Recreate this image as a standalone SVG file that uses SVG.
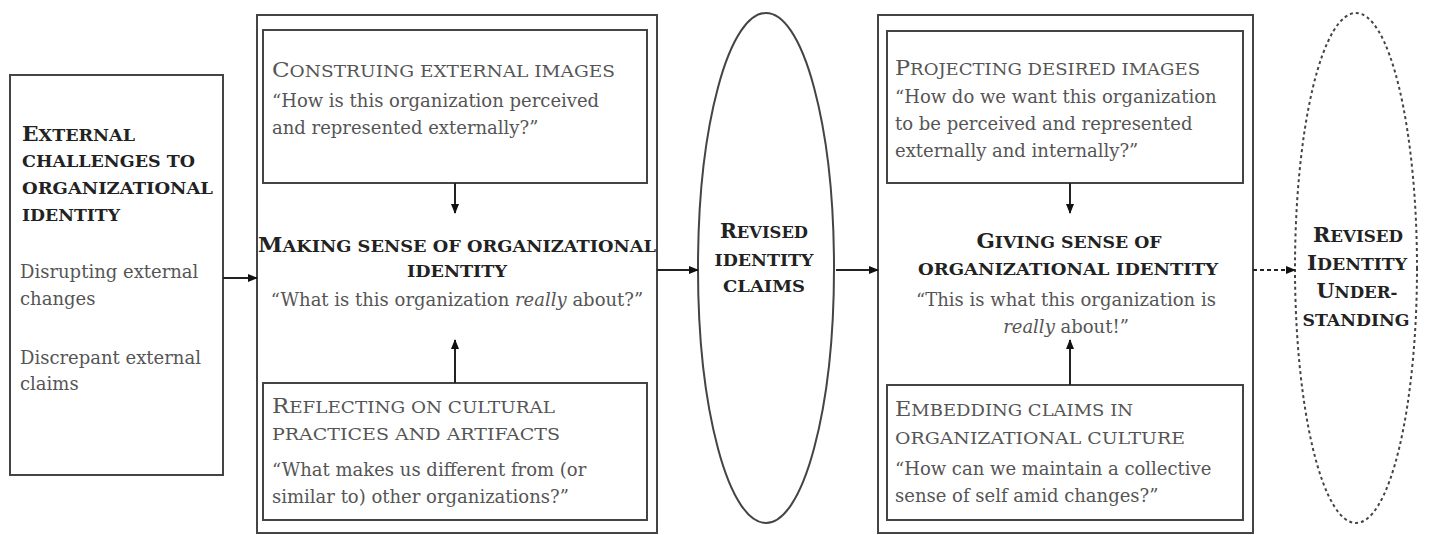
<svg xmlns="http://www.w3.org/2000/svg" width="1430" height="535" viewBox="0 0 1430 535">
<style>
.box{fill:none;stroke:#444;stroke-width:2}
.t{font-family:"DejaVu Serif","Liberation Serif",serif;font-size:18px;fill:#555}
.sc{font-family:"DejaVu Serif","Liberation Serif",serif;font-size:16.5px;fill:#555}
.h{font-family:"DejaVu Serif","Liberation Serif",serif;font-size:16.5px;font-weight:bold;fill:#222}
.b{font-size:20.5px}
.c{text-anchor:middle}
.ln{stroke:#222;stroke-width:2;fill:none}
</style>
<defs>
<marker id="ah" markerWidth="10" markerHeight="10" refX="9" refY="5" orient="auto" markerUnits="userSpaceOnUse">
<path d="M0,1 L10,5 L0,9 Z" fill="#111"/>
</marker>
</defs>
<g id="external-challenges">
<rect class="box" x="10" y="75" width="213" height="400"/>
<text class="h" x="22" y="141" textLength="113" lengthAdjust="spacingAndGlyphs"><tspan class="b">E</tspan>XTERNAL</text>
<text class="h" x="22" y="167" textLength="173" lengthAdjust="spacingAndGlyphs">CHALLENGES TO</text>
<text class="h" x="22" y="194" textLength="191" lengthAdjust="spacingAndGlyphs">ORGANIZATIONAL</text>
<text class="h" x="22" y="221" textLength="98" lengthAdjust="spacingAndGlyphs">IDENTITY</text>
<text class="t" x="20" y="278">Disrupting external</text>
<text class="t" x="20" y="305">changes</text>
<text class="t" x="20" y="364">Discrepant external</text>
<text class="t" x="20" y="390">claims</text>
</g>
<g id="making-sense">
<rect class="box" x="257" y="15" width="400" height="518"/>
<text class="h c" x="457" y="252" textLength="398" lengthAdjust="spacingAndGlyphs"><tspan class="b">M</tspan>AKING SENSE OF ORGANIZATIONAL</text>
<text class="h c" x="457" y="277" textLength="100" lengthAdjust="spacingAndGlyphs">IDENTITY</text>
<text class="t c" x="457" y="306">“What is this organization <tspan font-style="italic">really</tspan> about?”</text>
</g>
<g id="construing">
<rect class="box" x="263" y="30" width="384" height="153"/>
<text class="sc" x="272" y="77" textLength="343" lengthAdjust="spacingAndGlyphs"><tspan class="b">C</tspan>ONSTRUING EXTERNAL IMAGES</text>
<text class="t" x="272" y="107">“How is this organization perceived</text>
<text class="t" x="272" y="134">and represented externally?”</text>
</g>
<g id="reflecting">
<rect class="box" x="263" y="383" width="384" height="137"/>
<text class="sc" x="272" y="413" textLength="283" lengthAdjust="spacingAndGlyphs"><tspan class="b">R</tspan>EFLECTING ON CULTURAL</text>
<text class="sc" x="272" y="440" textLength="288" lengthAdjust="spacingAndGlyphs">PRACTICES AND ARTIFACTS</text>
<text class="t" x="272" y="476">“What makes us different from (or</text>
<text class="t" x="272" y="503">similar to) other organizations?”</text>
</g>
<g id="revised-claims">
<ellipse class="box" cx="766" cy="268" rx="68" ry="255"/>
<text class="h c" x="764" y="238" textLength="88" lengthAdjust="spacingAndGlyphs"><tspan class="b">R</tspan>EVISED</text>
<text class="h c" x="764" y="266" textLength="99" lengthAdjust="spacingAndGlyphs">IDENTITY</text>
<text class="h c" x="764" y="292" textLength="82" lengthAdjust="spacingAndGlyphs">CLAIMS</text>
</g>
<g id="giving-sense">
<rect class="box" x="878" y="15" width="375" height="518"/>
<text class="h c" x="1069" y="248" textLength="185" lengthAdjust="spacingAndGlyphs"><tspan class="b">G</tspan>IVING SENSE OF</text>
<text class="h c" x="1068" y="275" textLength="300" lengthAdjust="spacingAndGlyphs">ORGANIZATIONAL IDENTITY</text>
<text class="t c" x="1066" y="306">“This is what this organization is</text>
<text class="t c" x="1066" y="333"><tspan font-style="italic">really</tspan> about!”</text>
</g>
<g id="projecting">
<rect class="box" x="887" y="31" width="356" height="152"/>
<text class="sc" x="895" y="75" textLength="305" lengthAdjust="spacingAndGlyphs"><tspan class="b">P</tspan>ROJECTING DESIRED IMAGES</text>
<text class="t" x="895" y="103">“How do we want this organization</text>
<text class="t" x="895" y="130">to be perceived and represented</text>
<text class="t" x="895" y="157">externally and internally?”</text>
</g>
<g id="embedding">
<rect class="box" x="887" y="385" width="356" height="135"/>
<text class="sc" x="895" y="416" textLength="238" lengthAdjust="spacingAndGlyphs"><tspan class="b">E</tspan>MBEDDING CLAIMS IN</text>
<text class="sc" x="895" y="444" textLength="290" lengthAdjust="spacingAndGlyphs">ORGANIZATIONAL CULTURE</text>
<text class="t" x="895" y="475">“How can we maintain a collective</text>
<text class="t" x="895" y="502">sense of self amid changes?”</text>
</g>
<g id="revised-understanding">
<ellipse cx="1356" cy="268" rx="61" ry="255" fill="none" stroke="#444" stroke-width="2" stroke-dasharray="3,3"/>
<text class="h c" x="1358" y="242" textLength="90" lengthAdjust="spacingAndGlyphs"><tspan class="b">R</tspan>EVISED</text>
<text class="h c" x="1357" y="270" textLength="100" lengthAdjust="spacingAndGlyphs"><tspan class="b">I</tspan>DENTITY</text>
<text class="h c" x="1357" y="298" textLength="81" lengthAdjust="spacingAndGlyphs"><tspan class="b">U</tspan>NDER-</text>
<text class="h c" x="1356" y="326" textLength="107" lengthAdjust="spacingAndGlyphs">STANDING</text>
</g>
<g id="connectors">
<line class="ln" x1="223" y1="278" x2="257" y2="278" marker-end="url(#ah)"/>
<line class="ln" x1="455" y1="183" x2="455" y2="213" marker-end="url(#ah)"/>
<line class="ln" x1="455" y1="383" x2="455" y2="340" marker-end="url(#ah)"/>
<line class="ln" x1="657" y1="270" x2="698" y2="270" marker-end="url(#ah)"/>
<line class="ln" x1="836" y1="270" x2="878" y2="270" marker-end="url(#ah)"/>
<line class="ln" x1="1070" y1="183" x2="1070" y2="213" marker-end="url(#ah)"/>
<line class="ln" x1="1070" y1="385" x2="1070" y2="340" marker-end="url(#ah)"/>
<line class="ln" x1="1253" y1="270" x2="1295" y2="270" stroke-dasharray="4,3" marker-end="url(#ah)"/>
</g>
</svg>
